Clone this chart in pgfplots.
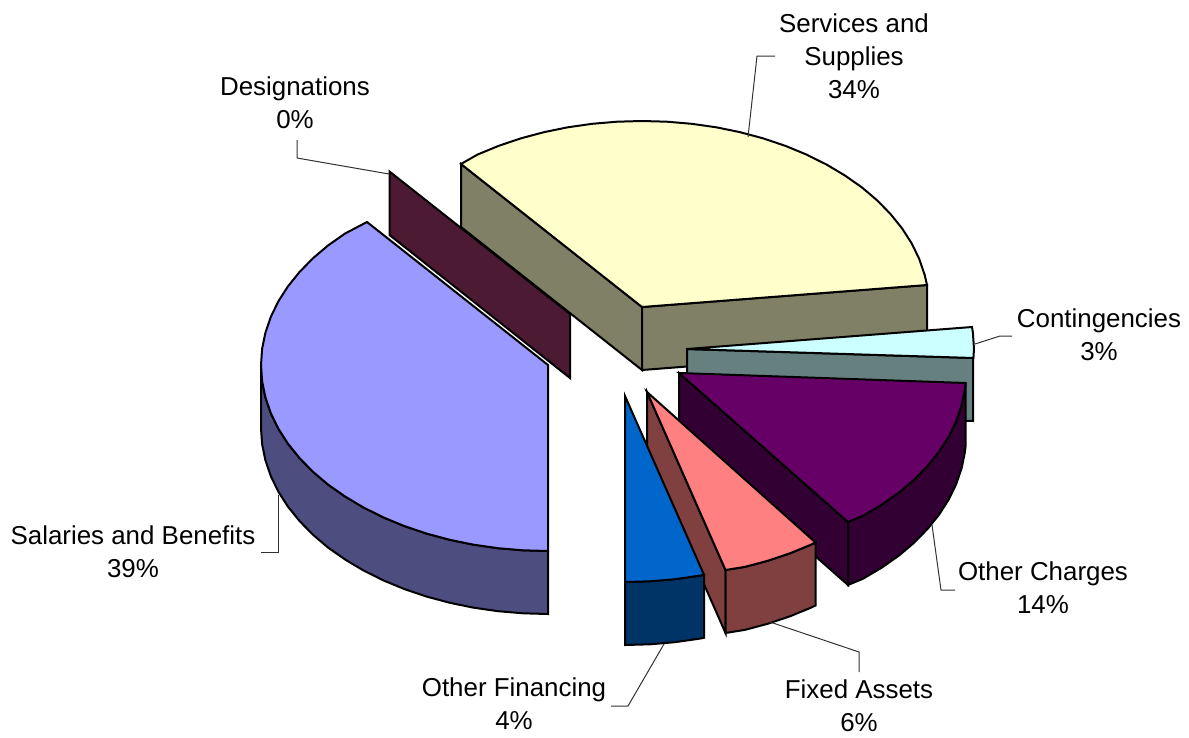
\documentclass[border=0pt]{standalone}
\usepackage{pgfplots}
\pgfplotsset{compat=1.18}
\usepackage{fontspec}
\setmainfont{Liberation Sans}

\definecolor{salTop}{HTML}{9999FF}
\definecolor{salSide}{HTML}{4D4D80}
\definecolor{desSide}{HTML}{4D1A33}
\definecolor{serTop}{HTML}{FFFFCC}
\definecolor{serSide}{HTML}{808066}
\definecolor{conTop}{HTML}{CCFFFF}
\definecolor{conSide}{HTML}{668080}
\definecolor{chgTop}{HTML}{660066}
\definecolor{chgSide}{HTML}{330033}
\definecolor{fixTop}{HTML}{FF8080}
\definecolor{fixSide}{HTML}{804040}
\definecolor{finTop}{HTML}{0066CC}
\definecolor{finSide}{HTML}{003366}

\tikzset{
  slice/.style={draw=black,line width=2pt},
  leader/.style={draw=black!80,line width=1pt},
  lab/.style={align=center,inner sep=0pt,font=\fontsize{25.9}{33}\selectfont},
}

\begin{document}
\begin{tikzpicture}
\path[use as bounding box] (0,0) rectangle (1189pt,737pt);
\begin{axis}[
  at={(0,0)},anchor=south west,
  scale only axis,
  width=1189pt,height=737pt,
  xmin=0,xmax=1189,ymin=0,ymax=737,
  y dir=reverse,
  hide axis,
  clip=false,
  no markers,
]
% Services and Supplies
\addplot[slice,fill=serSide] coordinates {(461,164)(642,307)(642,370)(461,227)} --cycle;
\addplot[slice,fill=serSide] coordinates {(642,307)(927,285)(927,348)(642,370)} --cycle;
\addplot[slice,fill=serTop] coordinates {
(642,307)(461,164)(477.4,154.6)(498.5,145.9)(520.7,138.4)(543.8,132.2)(567.7,127.3)(592.2,123.8)(617,121.7)(642,121)
(667,121.7)(691.8,123.8)(716.3,127.3)(740.2,132.2)(763.3,138.4)(785.5,145.9)(806.6,154.6)(826.5,164.5)(844.9,175.5)
(861.9,187.4)(877.1,200.3)(890.5,214)(902.1,228.4)(911.7,243.4)(919.2,258.9)(924.6,274.7)(927,285)} --cycle;

% Designations
\addplot[slice,fill=desSide] coordinates {(389.5,171.5)(570,314)(570,378)(389.5,235)} --cycle;

% Salaries and Benefits
\addplot[slice,fill=salSide] coordinates {
(261,365)(262.1,381.2)(265.4,397.3)(270.8,413.1)(278.3,428.6)(287.9,443.6)(299.5,458)(312.9,471.7)(328.1,484.6)
(345.1,496.5)(363.5,507.5)(383.4,517.4)(404.5,526.1)(426.7,533.6)(449.8,539.8)(473.7,544.7)(498.2,548.2)(523,550.3)(548,551)
(548,614)(523,613.3)(498.2,611.2)(473.7,607.7)(449.8,602.8)(426.7,596.6)(404.5,589.1)(383.4,580.4)(363.5,570.5)
(345.1,559.5)(328.1,547.6)(312.9,534.7)(299.5,521)(287.9,506.6)(278.3,491.6)(270.8,476.1)(265.4,460.3)(262.1,444.2)(261,428)} --cycle;
\addplot[slice,fill=salTop] coordinates {
(548,365)(367,222)(345.1,233.5)(328.1,245.4)(312.9,258.3)(299.5,272)(287.9,286.4)(278.3,301.4)(270.8,316.9)(265.4,332.7)(262.1,348.8)(261,365)
(262.1,381.2)(265.4,397.3)(270.8,413.1)(278.3,428.6)(287.9,443.6)(299.5,458)(312.9,471.7)(328.1,484.6)
(345.1,496.5)(363.5,507.5)(383.4,517.4)(404.5,526.1)(426.7,533.6)(449.8,539.8)(473.7,544.7)(498.2,548.2)(523,550.3)(548,551)} --cycle;

% Contingencies
\addplot[slice,fill=conSide] coordinates {(687,349)(973,358)(973,421)(687,412)} --cycle;
\addplot[slice,fill=conTop] coordinates {(687,349)(972,327)(972.9,332.8)(974,349)(973.4,358)} --cycle;

% Other Charges
\addplot[slice,fill=chgSide] coordinates {(679,373)(848,522)(848,585)(679,436)} --cycle;
\addplot[slice,fill=chgSide] coordinates {
(965.6,383)(964.9,389.2)(961.6,405.3)(956.2,421.1)(948.7,436.6)(939.1,451.6)(927.5,466)(914.1,479.7)(898.9,492.6)(881.9,504.5)(863.5,515.5)(848,522)
(848,585)(863.5,578.5)(881.9,567.5)(898.9,555.6)(914.1,542.7)(927.5,529)(939.1,514.6)(948.7,499.6)(956.2,484.1)(961.6,468.3)(964.9,452.2)(965.6,446)} --cycle;
\addplot[slice,fill=chgTop] coordinates {
(679,373)(965.6,383)(964.9,389.2)(961.6,405.3)(956.2,421.1)(948.7,436.6)(939.1,451.6)(927.5,466)(914.1,479.7)(898.9,492.6)(881.9,504.5)(863.5,515.5)(848,522)} --cycle;

% Fixed Assets
\addplot[slice,fill=fixSide] coordinates {(647,392)(725.5,570)(725.5,633)(647,455)} --cycle;
\addplot[slice,fill=fixSide] coordinates {
(725.5,570)(745.2,566.8)(768.3,560.6)(790.5,553.1)(811.6,544.4)(815.5,542.5)
(815.5,605.5)(811.6,607.4)(790.5,616.1)(768.3,623.6)(745.2,629.8)(725.5,633)} --cycle;
\addplot[slice,fill=fixTop] coordinates {
(647,392)(725.5,570)(745.2,566.8)(768.3,560.6)(790.5,553.1)(811.6,544.4)(815.5,542.5)} --cycle;

% Other Financing
\addplot[slice,fill=finSide] coordinates {
(625,582)(650,581.3)(674.8,579.2)(699.3,575.7)(704,574.8)
(704,637.8)(699.3,638.7)(674.8,642.2)(650,644.3)(625,645)} --cycle;
\addplot[slice,fill=finTop] coordinates {
(625,396)(625,582)(650,581.3)(674.8,579.2)(699.3,575.7)(704,574.8)} --cycle;

% leader lines
\addplot[leader] coordinates {(748,137)(757,56)(775,56)};
\addplot[leader] coordinates {(389,174)(297,158)(297,140)};
\addplot[leader] coordinates {(975,344)(1000,336)(1012,336)};
\addplot[leader] coordinates {(932,525)(941,590)(955,590)};
\addplot[leader] coordinates {(770,622)(859,652)(859,672)};
\addplot[leader] coordinates {(664,644)(628,706)(611,706)};
\addplot[leader] coordinates {(278,495)(278,552)(261,552)};

% labels
\node[lab] at (axis cs:854,56) {Services and\\Supplies\\34\%};
\node[lab] at (axis cs:295,103) {Designations\\0\%};
\node[lab] at (axis cs:1099,335) {Contingencies\\3\%};
\node[lab] at (axis cs:1043,588) {Other Charges\\14\%};
\node[lab] at (axis cs:859,706) {Fixed Assets\\6\%};
\node[lab] at (axis cs:514,704) {Other Financing\\4\%};
\node[lab] at (axis cs:133,552) {Salaries and Benefits\\39\%};
\end{axis}
\end{tikzpicture}
\end{document}
